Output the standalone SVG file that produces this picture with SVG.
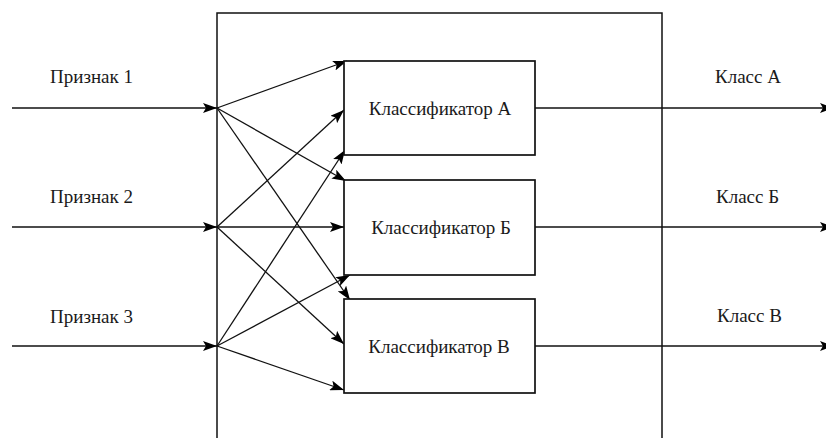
<svg xmlns="http://www.w3.org/2000/svg" width="826" height="438" viewBox="0 0 826 438">
  <defs>
    <marker id="arr" viewBox="0 0 14 10" refX="14" refY="5" markerWidth="14" markerHeight="10" markerUnits="userSpaceOnUse" orient="auto">
      <path d="M0,0 L14,5 L0,10 L3,5 Z" fill="#000"/>
    </marker>
  </defs>
  <style>
    .frame { fill: none; stroke: #111; stroke-width: 1.5; }
    .box { fill: #fff; stroke: #111; stroke-width: 1.7; }
    .lbl { font-family: "Liberation Serif", "Times New Roman", serif; font-size: 19px; fill: #1a1a1a; }
    .mid { text-anchor: middle; }
    .io { stroke: #111; stroke-width: 1.7; fill: none; marker-end: url(#arr); }
    .x { stroke: #111; stroke-width: 1.3; fill: none; marker-end: url(#arr); }
  </style>
  <rect width="826" height="438" fill="#fff"/>

  <!-- enclosing block -->
  <path class="frame" d="M217,440 V13 H662 V440"/>

  <g id="connectors">
    <!-- inputs -->
    <line class="io" x1="12" y1="108" x2="217" y2="108"/>
    <line class="io" x1="12" y1="227" x2="217" y2="227"/>
    <line class="io" x1="12" y1="346" x2="217" y2="346"/>
    <!-- feature 1 -> top-left corners -->
    <line class="x" x1="217" y1="108" x2="347" y2="61"/>
    <line class="x" x1="217" y1="108" x2="346" y2="181"/>
    <line class="x" x1="217" y1="108" x2="350" y2="300"/>
    <!-- feature 2 -> middles -->
    <line class="x" x1="217" y1="227" x2="344" y2="110"/>
    <line class="x" x1="217" y1="227" x2="344" y2="227"/>
    <line class="x" x1="217" y1="227" x2="344" y2="344"/>
    <!-- feature 3 -> bottom-left corners -->
    <line class="x" x1="217" y1="346" x2="345" y2="150"/>
    <line class="x" x1="217" y1="346" x2="350" y2="275"/>
    <line class="x" x1="217" y1="346" x2="344" y2="390"/>
    <!-- outputs -->
    <line class="io" x1="535" y1="108" x2="834" y2="108"/>
    <line class="io" x1="535" y1="227" x2="834" y2="227"/>
    <line class="io" x1="535" y1="346" x2="834" y2="346"/>
  </g>

  <g id="clfA">
    <rect class="box" x="344" y="61" width="191" height="94"/>
    <text class="lbl mid" x="440" y="115">Классификатор А</text>
  </g>
  <g id="clfB">
    <rect class="box" x="344" y="180" width="191" height="95"/>
    <text class="lbl mid" x="441" y="234">Классификатор Б</text>
  </g>
  <g id="clfC">
    <rect class="box" x="344" y="299" width="191" height="94"/>
    <text class="lbl mid" x="439" y="353">Классификатор В</text>
  </g>

  <g id="in1"><text class="lbl" x="50" y="83">Признак 1</text></g>
  <g id="in2"><text class="lbl" x="50" y="203">Признак 2</text></g>
  <g id="in3"><text class="lbl" x="50" y="323">Признак 3</text></g>

  <g id="outA"><text class="lbl" x="715" y="83">Класс А</text></g>
  <g id="outB"><text class="lbl" x="716" y="203">Класс Б</text></g>
  <g id="outC"><text class="lbl" x="717" y="322">Класс В</text></g>
</svg>
